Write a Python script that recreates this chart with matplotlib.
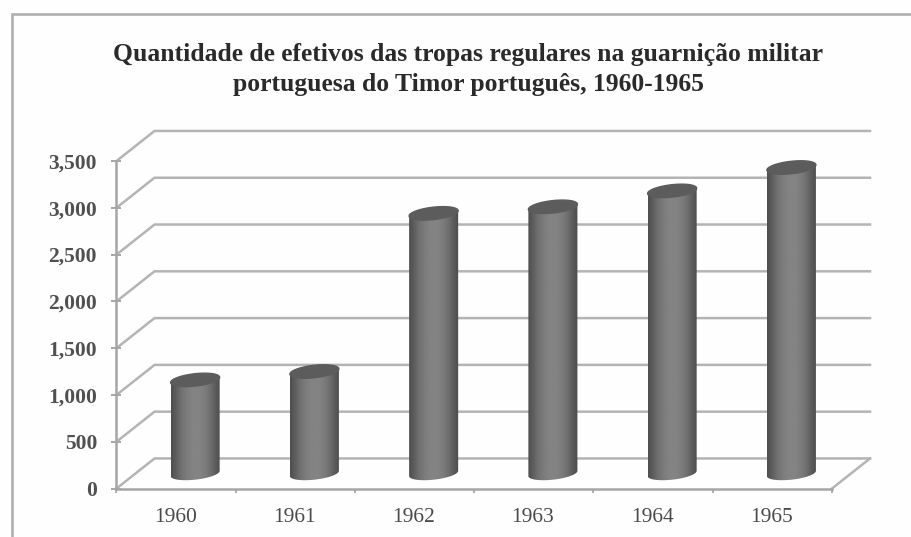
import matplotlib
matplotlib.use('Agg')
import matplotlib.pyplot as plt
import numpy as np
from matplotlib.lines import Line2D
from matplotlib.patches import Polygon

# Datos
anos = ['1960', '1961', '1962', '1963', '1964', '1965']
efetivos = [1000, 1090, 2780, 2850, 3020, 3270]
ticks_y = [0, 500, 1000, 1500, 2000, 2500, 3000, 3500]
titulo = ('Quantidade de efetivos das tropas regulares na guarnição militar\n'
          'portuguesa do Timor português, 1960-1965')

W, H = 912, 537
plt.rcParams['font.family'] = ['Liberation Serif', 'DejaVu Serif']

fig = plt.figure(figsize=(W / 100, H / 100), dpi=100, facecolor='#fefefe')

# Marco exterior: solo izquierda y arriba
fig.add_artist(Line2D([12.5 / W, 12.5 / W, 1], [0, 1 - 14 / H, 1 - 14 / H], color='#b0b0b0', linewidth=1.9,
                      solid_joinstyle='miter'))

# Ejes frontales del grafico 3D
ax = fig.add_axes([116.5 / W, 1 - 488.5 / H, 715.5 / W, 327.5 / H])
ax.set_xlim(0, len(anos))
ax.set_ylim(0, 3500)
ax.patch.set_alpha(0)
for s in ['top', 'right']:
    ax.spines[s].set_visible(False)
for s in ['left', 'bottom']:
    ax.spines[s].set_color('#a6a6a6')
    ax.spines[s].set_linewidth(1.8)

# Profundidad en unidades de datos (38 px a lo ancho, 30 px a lo alto)
dx = 38 / 715 * len(anos)
dy = 30 / 327 * 3500
color_rejilla = '#b4b4b4'

for t in ticks_y:
    ax.plot([0, dx, len(anos) + dx], [t, t + dy, t + dy], color=color_rejilla,
            lw=1.8, clip_on=False, zorder=1, solid_joinstyle='miter')
ax.plot([len(anos), len(anos) + dx], [0, dy], color=color_rejilla, lw=1.8, clip_on=False, zorder=1)

# Gradiente horizontal de los cilindros
grises = np.array([0.31, 0.37, 0.44, 0.48, 0.51, 0.52, 0.51, 0.48, 0.43, 0.36, 0.30])
grad = np.interp(np.linspace(0, 1, 60), np.linspace(0, 1, len(grises)), grises)[None, :]

radio = 24.5 / 715 * len(anos)
alto_elipse = 6.2 / 327 * 3500
incl = 2.6 / 327 * 3500 / radio
t = np.linspace(0, 2 * np.pi, 100)
for i, v in enumerate(efetivos):
    cx = i + 0.5 + dx / 2
    base = dy / 2
    top = base + v
    ex = radio * np.cos(t)
    ey = alto_elipse * np.sin(t) + incl * ex

    # Cuerpo: lados rectos mas la mitad inferior de la elipse
    a = np.linspace(np.pi, 2 * np.pi, 50)
    xs = cx + radio * np.cos(a)
    ys = base + alto_elipse * np.sin(a) + incl * radio * np.cos(a)
    cuerpo = np.vstack([np.column_stack([xs, ys]),
                        [cx + radio, top + incl * radio],
                        [cx - radio, top - incl * radio]])
    poly = Polygon(cuerpo, closed=True, transform=ax.transData, facecolor='none', edgecolor='none')
    ax.add_patch(poly)
    im = ax.imshow(grad, cmap='gray', vmin=0, vmax=1, aspect='auto', zorder=3,
                   extent=[cx - radio, cx + radio, base - alto_elipse * 2, top + alto_elipse * 2])
    im.set_clip_path(poly)

    # Tapa superior
    ax.fill(cx + ex, top + ey, color='#5c5c5c', zorder=4, clip_on=False)

ax.set_xlim(0, len(anos))
ax.set_ylim(0, 3500)

ax.set_yticks(ticks_y)
ax.set_yticklabels([f'{v:,}' for v in ticks_y], fontsize=15.5, color='#505050', fontweight='bold')
ax.set_xticks(range(len(anos) + 1))
ax.set_xticklabels([''] * (len(anos) + 1))
ax.tick_params(axis='x', length=3, width=1.3, color='#a6a6a6')
ax.tick_params(axis='y', length=7, width=1.4, color='#a6a6a6', direction='inout', pad=10.5)
for i, a in enumerate(anos):
    ax.annotate(a, (i + 0.5, 0), xytext=(-1, -29), textcoords='offset pixels', ha='center', va='center',
                fontsize=15.5, color='#4a4a4a', annotation_clip=False)

fig.text(468.5 / W, 1 - 69.5 / H, titulo, ha='center', va='center', fontsize=18.45, fontweight='bold',
         color='#2a2a2a', linespacing=1.42)

fig.savefig('out.png', dpi=100, facecolor=fig.get_facecolor())
